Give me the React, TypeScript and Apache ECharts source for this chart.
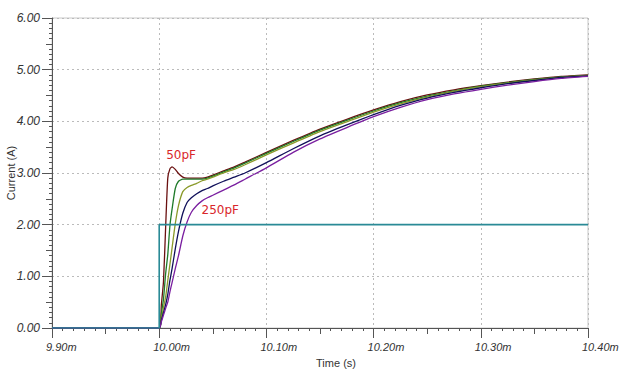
import React, { useEffect, useRef } from "react";
import * as echarts from "echarts";

// time in microseconds
const times = [9900, 10000, 10002, 10004, 10006, 10008, 10010, 10012, 10015, 10018, 10022, 10026, 10030, 10035, 10040, 10045, 10050, 10060, 10070, 10080, 10100, 10125, 10150, 10175, 10200, 10225, 10250, 10275, 10300, 10325, 10350, 10375, 10400];

const c50 = [0, 0, 0.45, 0.9, 1.95, 2.9, 3.08, 3.12, 3.07, 2.99, 2.92, 2.9, 2.9, 2.9, 2.9, 2.92, 2.96, 3.04, 3.12, 3.21, 3.4, 3.63, 3.85, 4.04, 4.22, 4.38, 4.51, 4.61, 4.69, 4.76, 4.82, 4.87, 4.9];
const c100 = [0, 0, 0.28, 0.56, 1.05, 1.42, 1.98, 2.3, 2.7, 2.84, 2.88, 2.88, 2.88, 2.88, 2.88, 2.9, 2.94, 3.02, 3.1, 3.19, 3.38, 3.61, 3.83, 4.02, 4.2, 4.36, 4.49, 4.59, 4.68, 4.75, 4.81, 4.86, 4.89];
const c150 = [0, 0, 0.18, 0.4, 0.6, 0.92, 1.23, 1.55, 2.02, 2.37, 2.64, 2.72, 2.76, 2.8, 2.85, 2.88, 2.92, 3.0, 3.07, 3.16, 3.35, 3.58, 3.8, 3.99, 4.18, 4.34, 4.47, 4.58, 4.67, 4.74, 4.8, 4.85, 4.89];
const c200 = [0, 0, 0.15, 0.3, 0.45, 0.65, 0.92, 1.15, 1.53, 1.87, 2.22, 2.43, 2.52, 2.6, 2.66, 2.7, 2.75, 2.84, 2.92, 3.0, 3.2, 3.47, 3.72, 3.93, 4.13, 4.31, 4.45, 4.56, 4.65, 4.73, 4.79, 4.85, 4.88];
const c250 = [0, 0, 0.12, 0.25, 0.38, 0.5, 0.7, 0.88, 1.15, 1.4, 1.78, 2.05, 2.24, 2.37, 2.46, 2.52, 2.57, 2.67, 2.77, 2.88, 3.1, 3.4, 3.66, 3.88, 4.09, 4.27, 4.42, 4.53, 4.62, 4.7, 4.77, 4.83, 4.87];

const stepTimes = [9900, 10000, 10000, 10400];
const stepValues = [0, 0, 2, 2];

const curveNames = ["50pF", "100pF", "150pF", "200pF", "250pF"];
const curveColors = ["#6a1010", "#1f7a2a", "#8a9a2a", "#10105a", "#7a1fa0"];
const curves = [c50, c100, c150, c200, c250];

const labelTexts = ["50pF", "250pF"];
const labelCoords: [number, number][] = [[10006.5, 3.35], [10039.5, 2.28]];

export default function App() {
  const ref = useRef<HTMLDivElement>(null);
  useEffect(() => {
    if (!ref.current) return;
    const chart = echarts.init(ref.current, null, { renderer: "svg" });
    const axisFont = {
      fontFamily: "Liberation Sans, Arial, sans-serif",
      fontStyle: "italic" as const,
      color: "#333",
    };
    const nameFont = {
      fontFamily: "Liberation Sans, Arial, sans-serif",
      fontSize: 11,
      color: "#333",
    };
    const series: any[] = curves.map((vals, i) => ({
      name: curveNames[i],
      type: "line",
      data: times.map((t, j) => [t, vals[j]]),
      showSymbol: false,
      smooth: 0.2,
      lineStyle: { color: curveColors[i], width: 1.3 },
      itemStyle: { color: curveColors[i] },
      z: 3,
    }));
    series.push({
      name: "step",
      type: "line",
      data: stepTimes.map((t, j) => [t, stepValues[j]]),
      showSymbol: false,
      lineStyle: { color: "#2a8a96", width: 1.6 },
      z: 4,
      markPoint: {
        symbol: "circle",
        symbolSize: 0,
        data: labelTexts.map((txt, i) => ({
          coord: labelCoords[i],
          value: txt,
          label: {
            show: true,
            position: "right",
            distance: 0,
            formatter: txt,
            color: "#d9262b",
            fontFamily: "DejaVu Sans, sans-serif",
            fontSize: 12,
          },
        })),
      },
    });
    chart.setOption({
      animation: false,
      backgroundColor: "#fff",
      grid: {
        left: 52,
        top: 18,
        right: 32,
        bottom: 49,
        show: true,
        borderColor: "#c8c8c8",
        borderWidth: 1,
        containLabel: false,
        outerBoundsMode: "none",
      },
      xAxis: [
        {
          type: "value",
          min: 9900,
          max: 10400,
          interval: 100,
          name: "Time (s)",
          nameLocation: "middle",
          nameGap: 29,
          nameMoveOverlap: false,
          nameTextStyle: { ...nameFont, padding: [0, 0, 0, 32] },
          axisLine: { show: true, lineStyle: { color: "#555", width: 1 } },
          axisTick: { show: true, length: 10, lineStyle: { color: "#555" } },
          minorTick: { show: true, splitNumber: 10, length: 3, lineStyle: { color: "#555" } },
          axisLabel: {
            ...axisFont,
            fontSize: 11,
            margin: 13,
            align: "left",
            padding: [0, 0, 0, -6],
            formatter: (v: number) => (v / 1000).toFixed(2) + "m",
          },
          splitLine: { show: true, lineStyle: { color: "#bbb", type: [2, 3], width: 1 } },
        },
        {
          type: "value",
          min: 9900,
          max: 10400,
          interval: 50,
          position: "bottom",
          axisLine: { show: false },
          axisTick: { show: true, length: 6, lineStyle: { color: "#555" } },
          axisLabel: { show: false },
          splitLine: { show: false },
        },
      ],
      yAxis: [
        {
          type: "value",
          min: 0,
          max: 6,
          interval: 1,
          name: "Current (A)",
          nameLocation: "middle",
          nameGap: 36,
          nameMoveOverlap: false,
          nameTextStyle: nameFont,
          axisLine: { show: true, lineStyle: { color: "#555", width: 1 } },
          axisTick: { show: true, length: 10, lineStyle: { color: "#555" } },
          minorTick: { show: true, splitNumber: 10, length: 3, lineStyle: { color: "#555" } },
          axisLabel: {
            ...axisFont,
            fontSize: 12,
            margin: 12,
            formatter: (v: number) => v.toFixed(2),
          },
          splitLine: { show: true, lineStyle: { color: "#bbb", type: [2, 3], width: 1 } },
        },
        {
          type: "value",
          min: 0,
          max: 6,
          interval: 0.5,
          position: "left",
          axisLine: { show: false },
          axisTick: { show: true, length: 6, lineStyle: { color: "#555" } },
          axisLabel: { show: false },
          splitLine: { show: false },
        },
      ],
      series,
    });
    return () => chart.dispose();
  }, []);
  return (
    <div
      ref={ref}
      style={{ position: "fixed", left: 0, top: 0, width: 620, height: 377, background: "#fff" }}
    />
  );
}
